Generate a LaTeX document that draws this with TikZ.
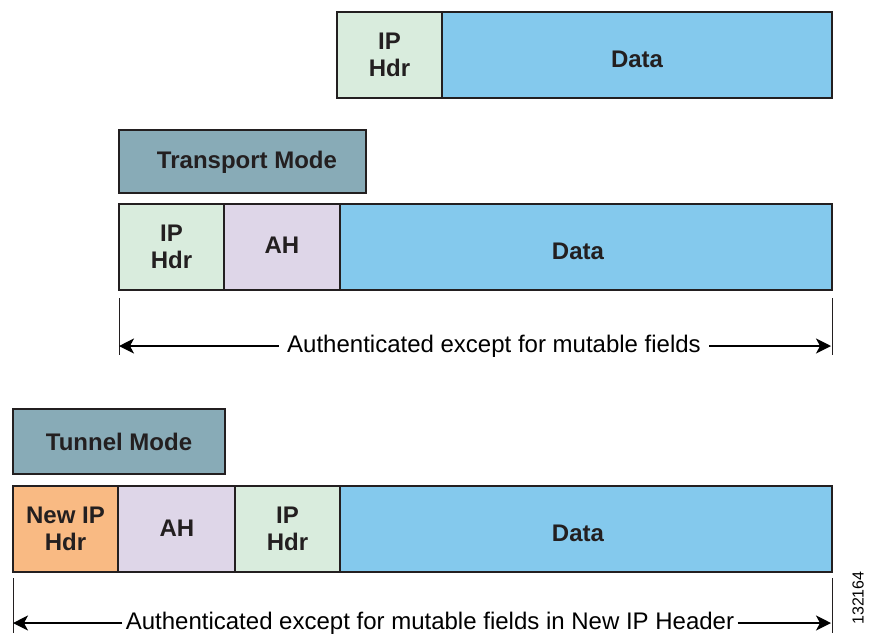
\documentclass[tikz,border=0pt]{standalone}
\usepackage{fontspec}
\setmainfont{Liberation Sans}
\usetikzlibrary{arrows.meta}
\definecolor{ipc}{HTML}{D9ECDD}
\definecolor{ahc}{HTML}{DED6E8}
\definecolor{datac}{HTML}{84C9ED}
\definecolor{newc}{HTML}{F9BA83}
\definecolor{modec}{HTML}{88ABB7}
\definecolor{inkc}{HTML}{231F20}
\begin{document}
\begin{tikzpicture}[x=0.5pt,y=-0.5pt,
  fld/.style={draw=inkc, line width=0.6pt, inner sep=0pt, outer sep=0pt,
    font=\fontsize{12}{13.5}\selectfont\bfseries, text=inkc, align=center,
    minimum height=43pt},
  modebox/.style={fld, fill=modec},
  ipbox/.style={fld, fill=ipc},
  ahbox/.style={fld, fill=ahc},
  databox/.style={fld, fill=datac},
  newbox/.style={fld, fill=newc},
  lbl/.style={font=\fontsize{12}{13.5}\selectfont\bfseries, text=inkc, inner sep=0pt},
  tick/.style={draw=inkc, line width=0.5pt},
  dimarrow/.style={draw=black, line width=0.7pt, -{Stealth[length=7.5pt,width=7.5pt,inset=2pt]}},
  dimtext/.style={font=\fontsize{12}{14}\selectfont, text=black}
]
\useasboundingbox (0,0) rectangle (872,633);

% top packet
\node[ipbox, minimum width=52.5pt] (ip0) at (389.5,55) {IP\\Hdr};
\node[databox, minimum width=195pt] (d0) at (637,55) {};
\node[lbl] (d0t) at (637,59) {Data};

% transport mode
\node[modebox, minimum width=123.5pt, minimum height=31.5pt] (tm) at (242.5,161.5) {};
\node[lbl] (tmt) at (247,162) {Transport Mode};
\node[ipbox, minimum width=52.5pt] (ip1) at (171.5,247) {IP\\Hdr};
\node[ahbox, minimum width=58pt] (ah1) at (282,247) {};
\node[lbl] (ah1t) at (282,245) {AH};
\node[databox, minimum width=246pt] (d1) at (586,247) {};
\node[lbl] (d1t) at (578,251) {Data};

\coordinate (l1a) at (119,298); \coordinate (l1b) at (119,355);
\coordinate (r1a) at (832,298); \coordinate (r1b) at (832,355);
\draw[tick] (l1a) -- (l1b);
\draw[tick] (r1a) -- (r1b);
\coordinate (la1) at (119,346); \coordinate (ra1) at (831,346);
\node[dimtext, inner sep=4pt] (t1) at (494,346) {Authenticated except for mutable fields};
\draw[dimarrow] (t1.west) -- (la1);
\draw[dimarrow] (t1.east) -- (ra1);

% tunnel mode
\node[modebox, minimum width=106pt, minimum height=32.5pt] (tn) at (119,441.5) {};
\node[lbl] (tnt) at (119,442) {Tunnel Mode};
\node[newbox, minimum width=52.5pt] (nip) at (65.5,529) {New IP\\Hdr};
\node[ahbox, minimum width=58.5pt] (ah2) at (176.5,529) {};
\node[lbl] (ah2t) at (177,528) {AH};
\node[ipbox, minimum width=52.5pt] (ip2) at (287.5,529) {IP\\Hdr};
\node[databox, minimum width=246pt] (d2) at (586,529) {};
\node[lbl] (d2t) at (578,533) {Data};

\coordinate (l2a) at (13,578); \coordinate (l2b) at (13,633);
\coordinate (r2a) at (832,578); \coordinate (r2b) at (832,633);
\draw[tick] (l2a) -- (l2b);
\draw[tick] (r2a) -- (r2b);
\coordinate (la2) at (13,623); \coordinate (ra2) at (831,623);
\node[dimtext, inner sep=1.5pt] (t2) at (430,623) {Authenticated except for mutable fields in New IP Header};
\draw[dimarrow] (t2.west) -- (la2);
\draw[dimarrow] (t2.east) -- (ra2);

\node[rotate=90, font=\fontsize{8}{9}\selectfont, text=black, inner sep=0pt] (fig) at (858,598) {132164};
\end{tikzpicture}
\end{document}
